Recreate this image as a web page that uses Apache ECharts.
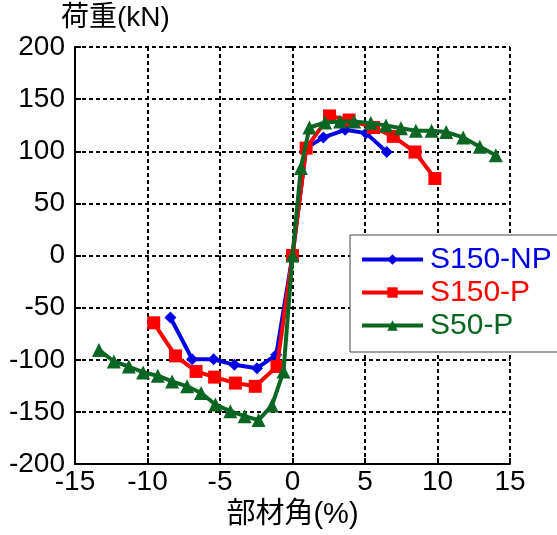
<!DOCTYPE html>
<html>
<head>
<meta charset="utf-8">
<script src="https://cdn.jsdelivr.net/npm/echarts@6/dist/echarts.min.js"></script>
<style>html,body{margin:0;padding:0;background:#fff}#c{width:557px;height:535px}</style>
</head>
<body>
<div id="c"></div>
<script>
const xTicks = [-15, -10, -5, 0, 5, 10, 15];
const yTicks = [-200, -150, -100, -50, 0, 50, 100, 150, 200];
const seriesNames = ['S150-NP', 'S150-P', 'S50-P'];
const s150npX = [-8.42, -6.92, -5.44, -4.01, -2.45, -1.12, 0, 0.94, 2.13, 3.63, 5.07, 6.5];
const s150npY = [-59.4, -99.4, -99.4, -104.8, -108, -95.2, 0, 103, 113.3, 120.6, 117.4, 99.3];
const s150pX = [-9.57, -8.07, -6.65, -5.37, -3.94, -2.57, -1.07, 0, 0.94, 2.55, 3.9, 5.58, 6.95, 8.45, 9.82];
const s150pY = [-64.5, -96.2, -111.1, -116.6, -122.3, -125.4, -106.4, 0, 103, 133.9, 130, 122.8, 114.3, 99.3, 73.9];
const s50pX = [-13.35, -12.32, -11.29, -10.3, -9.29, -8.3, -7.27, -6.3, -5.32, -4.29, -3.3, -2.34, -1.42, -0.62, 0, 0.58, 1.17, 2.25, 3.28, 4.25, 5.4, 6.45, 7.48, 8.51, 9.59, 10.6, 11.77, 12.92, 14.02];
const s50pY = [-90.5, -101.6, -106.4, -112.1, -115.2, -120.7, -125.4, -131.8, -142.9, -149.2, -154, -157.8, -143.8, -111.1, 0, 84, 122.8, 127.6, 128.5, 128.5, 127, 124.7, 122.2, 119.6, 119.6, 118.4, 113.3, 104.4, 96.2];
const colors = ['#0000e6', '#ff0000', '#0b6623'];
const symbols = ['diamond', 'rect', 'triangle'];
const symbolSizes = [12, 13, 14];
const xs = [s150npX, s150pX, s50pX];
const ys = [s150npY, s150pY, s50pY];

const FONT = "'Liberation Sans', 'Noto Sans CJK JP', sans-serif";
const chart = echarts.init(document.getElementById('c'));
const gridLine = {show: true, lineStyle: {color: '#000', type: [4, 3], width: 2}};
const baseAxis = (type) => ({
  min: type === 'x' ? xTicks[0] : yTicks[0],
  max: type === 'x' ? xTicks[xTicks.length - 1] : yTicks[yTicks.length - 1],
  interval: type === 'x' ? 5 : 50,
});
chart.setOption({
  animation: false,
  backgroundColor: '#fff',
  textStyle: {fontFamily: FONT},
  title: {text: '荷重(kN)', left: 61, top: 4, padding: 0, textStyle: {fontFamily: FONT, fontSize: 28, fontWeight: 'normal', color: '#000'}},
  grid: {left: 75, right: 47, top: 47, bottom: 67, containLabel: false},
  xAxis: [
    Object.assign(baseAxis('x'), {
      type: 'value', position: 'bottom',
      name: '部材角(%)', nameLocation: 'middle', nameGap: 35,
      nameTextStyle: {fontFamily: FONT, fontSize: 29, color: '#000'},
      axisLine: {show: true, onZero: false, lineStyle: {color: '#000', width: 2}},
      axisTick: {show: true, inside: true, length: 6, lineStyle: {color: '#000', width: 2}},
      axisLabel: {fontFamily: FONT, fontSize: 28, color: '#000', margin: 4, formatter: v => String(v)},
      splitLine: gridLine
    }),
    Object.assign(baseAxis('x'), {
      type: 'value', position: 'top',
      axisLine: {show: false},
      axisTick: {show: true, inside: true, length: 6, lineStyle: {color: '#000', width: 2}},
      axisLabel: {show: false}, splitLine: {show: false}
    })
  ],
  yAxis: [
    Object.assign(baseAxis('y'), {
      type: 'value', position: 'left',
      axisLine: {show: true, onZero: false, lineStyle: {color: '#000', width: 2}},
      axisTick: {show: true, inside: true, length: 6, lineStyle: {color: '#000', width: 2}},
      axisLabel: {fontFamily: FONT, fontSize: 28, color: '#000', margin: 10, formatter: v => String(v)},
      splitLine: gridLine
    }),
    Object.assign(baseAxis('y'), {
      type: 'value', position: 'right',
      axisLine: {show: false},
      axisTick: {show: true, inside: true, length: 6, lineStyle: {color: '#000', width: 2}},
      axisLabel: {show: false}, splitLine: {show: false}
    })
  ],
  legend: {
    orient: 'vertical', left: 350, top: 235,
    padding: [8, 40, 10, 10],
    backgroundColor: '#fff', borderColor: '#444', borderWidth: 1,
    itemWidth: 61, itemHeight: 13, itemGap: 0,
    lineStyle: {width: 4},
    textStyle: {fontFamily: FONT, fontSize: 30, lineHeight: 33, padding: [0, 0, 0, 2]},
    data: seriesNames.map((n, i) => ({name: n, textStyle: {color: colors[i]}}))
  },
  series: seriesNames.map((n, i) => ({
    name: n, type: 'line',
    data: xs[i].map((x, j) => [x, ys[i][j]]),
    symbol: symbols[i], symbolSize: symbolSizes[i],
    itemStyle: {color: colors[i]},
    lineStyle: {color: colors[i], width: 4},
    z: 3 + i
  }))
});
</script>
</body>
</html>
